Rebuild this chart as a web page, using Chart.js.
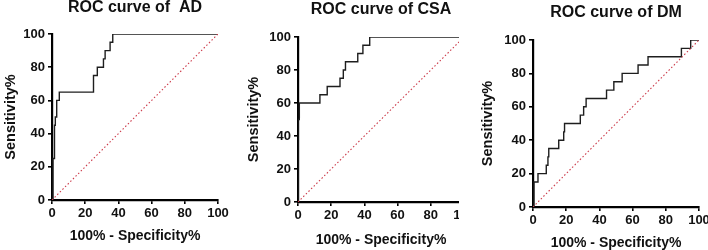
<!DOCTYPE html>
<html>
<head>
<meta charset="utf-8">
<script src="https://cdn.jsdelivr.net/npm/chart.js@4/dist/chart.umd.min.js"></script>
<style>
  html, body { margin: 0; padding: 0; background: #fff; }
  body { width: 708px; height: 250px; position: relative; overflow: hidden; }
  .box { position: absolute; top: 0; height: 250px; overflow: hidden; }
  canvas { display: block; }
</style>
</head>
<body>
<div class="box" style="left:0px;width:236px;"><canvas id="c1" width="236" height="250"></canvas></div>
<div class="box" style="left:236px;width:223px;"><canvas id="c2" width="240" height="250"></canvas></div>
<div class="box" style="left:470px;width:238px;"><canvas id="c3" width="238" height="250"></canvas></div>
<script>
// ---- data ----
const titles = ["ROC curve of  AD", "ROC curve of CSA", "ROC curve of DM"];
const xAxisTitle = "100% - Specificity%";
const yAxisTitle = "Sensitivity%";
const tickValues = [0, 20, 40, 60, 80, 100];

const adFpr  = [0, 0.6, 0.6, 1.5, 1.5, 2, 2, 2.5, 2.5, 3, 3, 4.4, 4.4, 25, 25, 27.3, 27.3, 31, 31, 32, 32, 35, 35, 36.6, 36.6, 100];
const adSens = [0, 0, 25, 25, 45, 45, 50, 50, 55, 55, 60, 60, 65, 65, 75, 75, 80, 80, 85, 85, 90, 90, 95, 95, 100, 100];

const csaFpr  = [0, 0, 0.8, 0.8, 13.2, 13.2, 17.6, 17.6, 25.3, 25.3, 27.3, 27.3, 28.6, 28.6, 36, 36, 39.1, 39.1, 43.2, 43.2, 100];
const csaSens = [0, 50, 50, 60, 60, 65, 65, 70, 70, 75, 75, 80, 80, 85, 85, 90, 90, 95, 95, 100, 100];

const dmFpr  = [0, 0.6, 0.6, 3, 3, 8, 8, 9, 9, 9.5, 9.5, 15.5, 15.5, 18.5, 18.5, 19, 19, 28.5, 28.5, 30.5, 30.5, 32, 32, 44.3, 44.3, 48.7, 48.7, 53.7, 53.7, 63.3, 63.3, 69.3, 69.3, 89.4, 89.4, 95, 95, 100];
const dmSens = [0, 0, 15, 15, 20, 20, 25, 25, 30, 30, 35, 35, 40, 40, 45, 45, 50, 50, 55, 55, 60, 60, 65, 65, 70, 70, 75, 75, 80, 80, 85, 85, 90, 90, 95, 95, 100, 100];

const refFpr  = [0, 100];
const refSens = [0, 100];

// ---- chart construction ----
const FONT = "'Liberation Sans', Arial, sans-serif";
const pts = (xs, ys) => xs.map((x, i) => ({ x: x, y: ys[i] }));

function makeChart(id, title, fpr, sens, L) {
  new Chart(document.getElementById(id), {
    type: 'line',
    data: {
      datasets: [
        { data: pts(refFpr, refSens), borderColor: '#cc3b4a', borderWidth: 1.1, borderDash: [1.5, 2.2], pointRadius: 0, fill: false },
        { data: pts(fpr, sens), borderColor: '#1e1e1e', borderWidth: 1.4, pointRadius: 0, fill: false, tension: 0 }
      ]
    },
    options: {
      responsive: false,
      animation: false,
      devicePixelRatio: 1,
      layout: { padding: { left: 0, right: L.padRight, top: 0, bottom: 0 } },
      plugins: {
        legend: { display: false },
        tooltip: { enabled: false },
        title: {
          display: true, text: title, fullSize: false, color: '#111',
          font: { family: FONT, size: 16, weight: 'bold', lineHeight: 1 },
          padding: { top: L.titleTop, bottom: L.titleBottom }
        }
      },
      scales: {
        x: {
          type: 'linear', min: 0, max: 100,
          afterBuildTicks: s => { s.ticks = tickValues.map(v => ({ value: v })); },
          afterFit: s => { s.height = L.xH; s.paddingLeft = 0; s.paddingRight = 0; },
          border: { display: true, color: '#000', width: 2.2 },
          grid: { display: true, drawOnChartArea: false, drawTicks: true, tickLength: 4, color: '#000', lineWidth: 1.6 },
          ticks: { color: '#111', padding: 2, maxRotation: 0, autoSkip: false, font: { family: FONT, size: 13, weight: 'bold' } },
          title: { display: true, text: xAxisTitle, color: '#111', font: { family: FONT, size: 14, weight: 'bold', lineHeight: 1.2 }, padding: { top: 0, bottom: L.xTitleBottom } }
        },
        y: {
          type: 'linear', min: 0, max: 100,
          afterBuildTicks: s => { s.ticks = tickValues.map(v => ({ value: v })); },
          afterFit: s => { s.width = L.yW; s.paddingTop = 0; s.paddingBottom = 0; },
          border: { display: true, color: '#000', width: 2.2 },
          grid: { display: true, drawOnChartArea: false, drawTicks: true, tickLength: 4, color: '#000', lineWidth: 1.6 },
          ticks: { color: '#111', padding: 3, font: { family: FONT, size: 13, weight: 'bold' } },
          title: { display: true, text: yAxisTitle, color: '#111', font: { family: FONT, size: 14.5, weight: 'bold', lineHeight: 1.2 }, padding: { top: L.yTitleTop, bottom: 0 } }
        }
      }
    }
  });
}

makeChart('c1', titles[0], adFpr, adSens,  { padRight: 18, titleTop: 0, titleBottom: 18, xH: 50, yW: 52, xTitleBottom: 5.6, yTitleTop: 2 });
makeChart('c2', titles[1], csaFpr, csaSens, { padRight: 12, titleTop: 2, titleBottom: 19, xH: 48, yW: 62, xTitleBottom: 1.6, yTitleTop: 9.6 });
makeChart('c3', titles[2], dmFpr, dmSens,  { padRight: 9, titleTop: 5, titleBottom: 19, xH: 43, yW: 63, xTitleBottom: -1.4, yTitleTop: 9.6 });
</script>
</body>
</html>
